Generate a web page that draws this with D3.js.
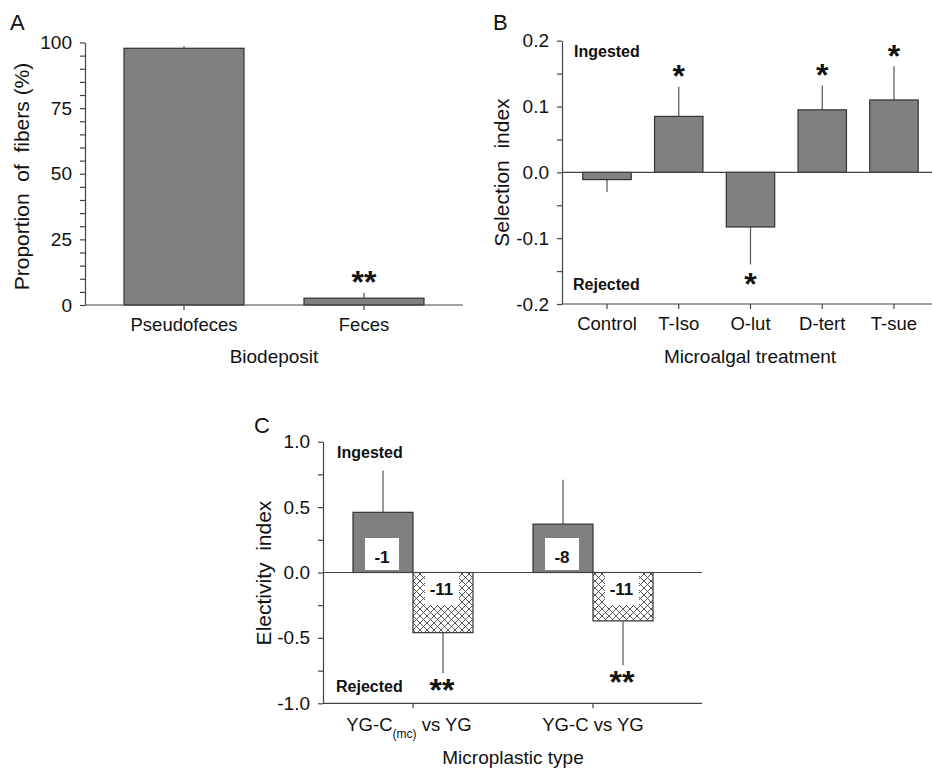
<!DOCTYPE html>
<html>
<head>
<meta charset="utf-8">
<script src="https://cdn.jsdelivr.net/npm/d3@7"></script>
<style>
	body { margin: 0; background: #fff; }
	svg { display: block; font-family: "Liberation Sans", Arial, sans-serif; }
	text { white-space: pre; }
</style>
</head>
<body>
<script>
// Panel A: fibers in biodeposits
var biodeposits = ['Pseudofeces', 'Feces'];
var fiberPct = [97.8, 2.6];
var fiberErr = [0.9, 2.1];
var fiberSig = ['', '**'];
var ticksA = [0, 25, 50, 75, 100];

// Panel B: selection index per microalgal treatment
var treatments = ['Control', 'T-Iso', 'O-lut', 'D-tert', 'T-sue'];
var selIndex = [-0.011, 0.085, -0.083, 0.095, 0.110];
var selErr = [0.019, 0.045, 0.057, 0.037, 0.051];
var selSig = ['', '*', '*', '*', '*'];
var ticksB = [-0.2, -0.1, 0.0, 0.1, 0.2];

// Panel C: electivity index per microplastic type
var plasticTypes = ['YG-C(mc) vs YG', 'YG-C vs YG'];
var elecYGC = [0.46, 0.37];
var errYGC = [0.32, 0.34];
var cntYGC = ['-1', '-8'];
var elecYG = [-0.46, -0.37];
var errYG = [0.31, 0.34];
var cntYG = ['-11', '-11'];
var sigYG = ['**', '**'];
var ticksC = [-1.0, -0.5, 0.0, 0.5, 1.0];

var svg = d3.select('body').append('svg').attr('width', 932).attr('height', 771);

// cross hatch for the YG bars
var defs = svg.append('defs');
var pat = defs.append('pattern').attr('id', 'hatch')
	.attr('patternUnits', 'userSpaceOnUse').attr('width', 7).attr('height', 7);
pat.append('rect').attr('width', 7).attr('height', 7).attr('fill', '#fff');
pat.append('path').attr('d', 'M0,0L7,7M7,0L0,7M-1,6L1,8M6,-1L8,1M-1,1L1,-1M6,8L8,6')
	.attr('stroke', '#444').attr('stroke-width', 0.9);

var GRAY = '#808080', EDGE = '#333', AXIS = '#444';

/** Draws a left axis with minor ticks, labels only on major ones */
function yAxis(y, x0, step, majors, fmt) {
	var d = y.domain(), n = Math.round((d[1] - d[0]) / step);
	var minor = d3.range(n + 1).map(i => +(d[0] + i * step).toFixed(4));
	var g = svg.append('g').attr('transform', 'translate(' + x0 + ',0)')
		.call(d3.axisLeft(y).tickValues(minor).tickSize(5).tickSizeOuter(0).tickPadding(8)
			.tickFormat(v => majors.some(m => Math.abs(m - v) < 1e-6) ? fmt(v) : ''));
	g.selectAll('path,line').attr('stroke', AXIS).attr('stroke-width', 1.2);
	g.selectAll('text').attr('font-size', 19).attr('fill', '#111').style('font-family', 'inherit');
	return g;
}

/** Draws a horizontal line across a plot */
function hline(x1, x2, yv) {
	svg.append('line').attr('x1', x1).attr('x2', x2).attr('y1', yv).attr('y2', yv)
		.attr('stroke', AXIS).attr('stroke-width', 1.2);
}

/** Category ticks under an axis */
function xTicks(xs, yv) {
	xs.forEach(function(cx) {
		svg.append('line').attr('x1', cx).attr('x2', cx).attr('y1', yv).attr('y2', yv + 5)
			.attr('stroke', AXIS).attr('stroke-width', 1.2);
	});
}

function text(x, y, s, size, opts) {
	opts = opts || {};
	var t = svg.append('text').attr('x', x).attr('y', y).attr('font-size', size)
		.attr('fill', '#111').attr('text-anchor', opts.anchor || 'start').text(s);
	if (opts.bold) t.attr('font-weight', 'bold');
	if (opts.rotate) t.attr('transform', 'rotate(-90,' + x + ',' + y + ')');
	return t;
}

// significance stars, centred on (cx, cy)
function star(cx, cy, s) {
	svg.append('text').attr('x', cx).attr('y', cy).attr('dy', '0.48em')
		.attr('text-anchor', 'middle').attr('font-size', 32).attr('font-weight', 'bold')
		.attr('fill', '#111').text(s);
}

function errLine(cx, y1, y2) {
	svg.append('line').attr('x1', cx).attr('x2', cx).attr('y1', y1).attr('y2', y2)
		.attr('stroke', '#555').attr('stroke-width', 1.2);
}

// ---------- Panel A ----------
var xA = d3.scaleBand().domain(biodeposits).range([85, 463]).paddingInner(1 / 3).paddingOuter(0.2167);
var yA = d3.scaleLinear().domain([0, 100]).range([305, 42.5]);
biodeposits.forEach(function(b, i) {
	var cx = xA(b) + xA.bandwidth() / 2;
	errLine(cx, yA(fiberPct[i]), yA(fiberPct[i] + fiberErr[i]));
	svg.append('rect').attr('x', xA(b)).attr('width', xA.bandwidth())
		.attr('y', yA(fiberPct[i])).attr('height', yA(0) - yA(fiberPct[i]))
		.attr('fill', GRAY).attr('stroke', EDGE).attr('stroke-width', 1.2);
	if (fiberSig[i]) star(cx, yA(fiberPct[i] + fiberErr[i]) - 15, fiberSig[i]);
	text(cx, 331, b, 18.5, { anchor: 'middle' });
});
hline(85, 463, yA(0));
xTicks(biodeposits.map(b => xA(b) + xA.bandwidth() / 2), yA(0));
yAxis(yA, 85, 5, ticksA, d => String(d));
text(274, 363, 'Biodeposit', 19, { anchor: 'middle' });
text(28.5, 176.5, 'Proportion  of  fibers (%)', 21, { anchor: 'middle', rotate: true });
text(10, 30, 'A', 22);

// ---------- Panel B ----------
var xB = d3.scaleBand().domain(treatments).range([562, 939]).paddingInner(0.325).paddingOuter(0.29);
var yB = d3.scaleLinear().domain([-0.2, 0.2]).range([304, 40.7]);
treatments.forEach(function(t, i) {
	var v = selIndex[i], sgn = v < 0 ? -1 : 1;
	var cx = xB(t) + xB.bandwidth() / 2;
	var tip = yB(v + sgn * selErr[i]);
	errLine(cx, yB(v), tip);
	svg.append('rect').attr('x', xB(t)).attr('width', xB.bandwidth())
		.attr('y', yB(Math.max(0, v))).attr('height', Math.abs(yB(v) - yB(0)))
		.attr('fill', GRAY).attr('stroke', EDGE).attr('stroke-width', 1.2);
	if (selSig[i]) star(cx, tip - sgn * 15, selSig[i]);
	text(cx, 330, t, 18.5, { anchor: 'middle' });
});
hline(562, 939, yB(0));
hline(562, 939, yB(-0.2));
xTicks(treatments.map(t => xB(t) + xB.bandwidth() / 2), yB(-0.2));
yAxis(yB, 562, 0.05, ticksB, d => d.toFixed(1));
text(574, 57, 'Ingested', 16, { bold: true });
text(573, 290, 'Rejected', 16, { bold: true });
text(750, 363, 'Microalgal treatment', 19, { anchor: 'middle' });
text(509, 172.5, 'Selection  index', 21, { anchor: 'middle', rotate: true });
text(493, 30, 'B', 22);

// ---------- Panel C ----------
var xC = d3.scaleBand().domain(plasticTypes).range([323, 683]).paddingInner(1 / 3).paddingOuter(1 / 6);
var xSub = d3.scaleBand().domain(['YG-C', 'YG']).range([0, xC.bandwidth()]);
var yC = d3.scaleLinear().domain([-1, 1]).range([703.3, 441.7]);
plasticTypes.forEach(function(p, i) {
	// gray bar, YG-C
	var x1 = xC(p) + xSub('YG-C'), w = xSub.bandwidth();
	errLine(x1 + w / 2, yC(elecYGC[i]), yC(elecYGC[i] + errYGC[i]));
	svg.append('rect').attr('x', x1).attr('width', w)
		.attr('y', yC(elecYGC[i])).attr('height', yC(0) - yC(elecYGC[i]))
		.attr('fill', GRAY).attr('stroke', EDGE).attr('stroke-width', 1.2);
	svg.append('rect').attr('x', x1 + w / 2 - 18).attr('y', yC(0) - 34.5)
		.attr('width', 34).attr('height', 32).attr('fill', '#fff');
	text(x1 + w / 2 - 1, yC(0) - 10, cntYGC[i], 17, { anchor: 'middle', bold: true });
	// hatched bar, YG
	var x2 = xC(p) + xSub('YG');
	var tip = yC(elecYG[i] - errYG[i]);
	errLine(x2 + w / 2, yC(elecYG[i]), tip);
	svg.append('rect').attr('x', x2).attr('width', w)
		.attr('y', yC(0)).attr('height', yC(elecYG[i]) - yC(0))
		.attr('fill', 'url(#hatch)').attr('stroke', EDGE).attr('stroke-width', 1.2);
	svg.append('rect').attr('x', x2 + w / 2 - 18).attr('y', yC(0) + 0.5)
		.attr('width', 34).attr('height', 32).attr('fill', '#fff');
	text(x2 + w / 2 - 1.5, yC(0) + 22.5, cntYG[i], 17, { anchor: 'middle', bold: true });
	if (sigYG[i]) star(x2 + w / 2 - 1, tip + 12, sigYG[i]);
});
hline(323, 702, yC(0));
hline(323, 702, yC(-1));
xTicks(plasticTypes.map(p => xC(p) + xC.bandwidth() / 2), yC(-1));
yAxis(yC, 323, 0.25, ticksC, d => d.toFixed(1));
// category labels, the first with a subscript
var cl = svg.append('text').attr('x', xC(plasticTypes[0]) + xC.bandwidth() / 2 - 4).attr('y', 731)
	.attr('font-size', 18.5).attr('fill', '#111').attr('text-anchor', 'middle');
cl.append('tspan').text('YG-C');
cl.append('tspan').attr('font-size', 12).attr('dy', 7).text('(mc)');
cl.append('tspan').attr('dy', -7).text(' vs YG');
text(xC(plasticTypes[1]) + xC.bandwidth() / 2, 731, plasticTypes[1], 18.5, { anchor: 'middle' });
text(337, 457.5, 'Ingested', 16, { bold: true });
text(336, 691.7, 'Rejected', 16, { bold: true });
text(513, 764, 'Microplastic type', 19, { anchor: 'middle' });
text(271, 573, 'Electivity  index', 21, { anchor: 'middle', rotate: true });
text(254, 433, 'C', 22);
</script>
</body>
</html>
